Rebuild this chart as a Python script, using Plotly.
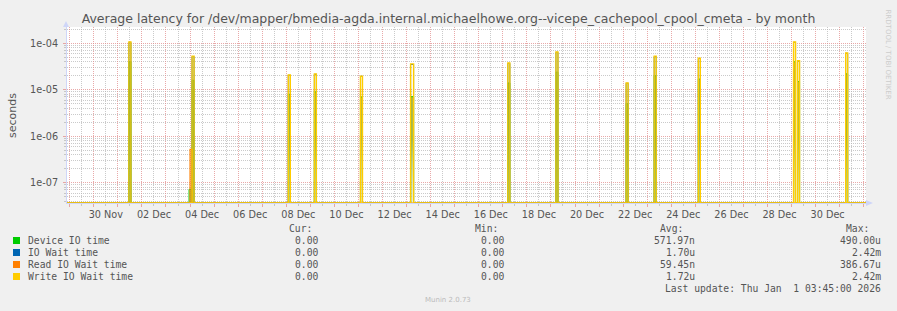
import plotly.graph_objects as go
import pandas as pd

# ---------------- data ----------------
range_start = "2025-11-28 21:15"
range_end = "2026-01-01 02:17"

device_times = ["2025-12-01 11:00", "2025-12-03 23:00", "2025-12-04 02:00", "2025-12-08 02:00",
                "2025-12-09 04:00", "2025-12-11 02:00", "2025-12-13 04:00", "2025-12-17 05:00",
                "2025-12-19 05:00", "2025-12-22 03:00", "2025-12-23 07:00", "2025-12-25 03:00",
                "2025-12-29 02:00", "2025-12-29 06:00", "2025-12-31 06:00"]
device_hours = [2, 2, 2, 2, 2, 2, 3, 2, 2, 2, 2, 2, 2, 2, 2]
device_values = [4.0e-5, 7.2e-8, 1.6e-5, 8.0e-6, 9.0e-6, 7.0e-6, 7.1e-6, 1.4e-5,
                 2.4e-5, 5.0e-6, 2.0e-5, 1.7e-5, 4.0e-5, 1.5e-5, 2.2e-5]

write_times = ["2025-12-01 11:00", "2025-12-04 02:00", "2025-12-08 02:00", "2025-12-09 04:00",
               "2025-12-11 02:00", "2025-12-13 04:00", "2025-12-17 05:00", "2025-12-19 05:00",
               "2025-12-22 03:00", "2025-12-23 07:00", "2025-12-25 03:00", "2025-12-29 02:00",
               "2025-12-29 06:00", "2025-12-31 06:00"]
write_hours = [2, 2, 2, 2, 2, 3, 2, 2, 2, 2, 2, 2, 2, 2]
write_values = [1.07e-4, 5.3e-5, 2.08e-5, 2.2e-5, 1.97e-5, 3.6e-5, 3.77e-5, 6.5e-5,
                1.4e-5, 5.3e-5, 4.8e-5, 1.07e-4, 4.2e-5, 6.2e-5]

iowait_times = write_times
iowait_hours = write_hours
iowait_values = [1.05e-4, 5.2e-5, 2.05e-5, 2.15e-5, 1.95e-5, 3.5e-5, 3.7e-5, 6.4e-5,
                 1.38e-5, 5.2e-5, 4.7e-5, 1.05e-4, 4.1e-5, 6.1e-5]

read_times = ["2025-12-04 00:00"]
read_hours = [2]
read_values = [5.2e-7]

legend_names = ["Device IO time", "IO Wait time", "Read IO Wait time", "Write IO Wait time"]
legend_colors = ["#00CC00", "#0066B3", "#FF8000", "#FFCC00"]
cur_text = ["0.00", "0.00", "0.00", "0.00"]
min_text = ["0.00", "0.00", "0.00", "0.00"]
avg_text = ["571.97n", "1.70u", "59.45n", "1.72u"]
max_text = ["490.00u", "2.42m", "386.67u", "2.42m"]

title = ("Average latency for /dev/mapper/bmedia-agda.internal.michaelhowe.org"
         "--vicepe_cachepool_cpool_cmeta - by month")

# ---------------- helpers ----------------
LOG_MIN, LOG_MAX = -7.437, -3.649
FLOOR = 10 ** LOG_MIN  # rrdtool draws zero values at the bottom edge


def step_series(times, hours, values):
    xs = [pd.Timestamp(range_start)]
    ys = [0.0]
    for t, h, v in zip(times, hours, values):
        t0 = pd.Timestamp(t)
        xs += [t0, t0 + pd.Timedelta(hours=h)]
        ys += [v, 0.0]
    xs.append(pd.Timestamp(range_end))
    ys.append(0.0)
    ys = [y if y > 0 else FLOOR for y in ys]
    return xs, ys


fig = go.Figure()

dx, dy = step_series(device_times, device_hours, device_values)
fig.add_trace(go.Scatter(
    x=dx, y=dy, mode="lines", line=dict(color="#00CC00", width=1, shape="hv"),
    fill="toself",
    fillgradient=dict(type="vertical",
                      colorscale=[[0, "rgba(205,235,200,0.5)"], [0.45, "rgba(150,180,70,0.9)"],
                                  [1, "rgba(175,175,45,0.9)"]]),
    showlegend=False, hoverinfo="skip"))

bx, by = step_series(iowait_times, iowait_hours, iowait_values)
fig.add_trace(go.Scatter(x=bx, y=by, mode="lines", line=dict(color="#0066B3", width=1, shape="hv"),
                         showlegend=False, hoverinfo="skip"))

rx, ry = step_series(read_times, read_hours, read_values)
fig.add_trace(go.Scatter(x=rx, y=ry, mode="lines", line=dict(color="#FF8000", width=1.2, shape="hv"),
                         showlegend=False, hoverinfo="skip"))

wx, wy = step_series(write_times, write_hours, write_values)
fig.add_trace(go.Scatter(x=wx, y=wy, mode="lines", line=dict(color="#FFCC00", width=1.4, shape="hv"),
                         showlegend=False, hoverinfo="skip"))

# dummy trace to carry the label axis
fig.add_trace(go.Scatter(x=[pd.Timestamp(range_start)], y=[FLOOR], xaxis="x2", mode="lines",
                         showlegend=False, hoverinfo="skip", line=dict(width=0)))

# ---------------- axes ----------------
start = pd.Timestamp(range_start)
end = pd.Timestamp(range_end)
midnights = list(pd.date_range(start.ceil("D"), end, freq="D"))
noons = [m + pd.Timedelta(hours=12) for m in midnights] + [start.floor("D") + pd.Timedelta(hours=12)]
noons = [n for n in noons if start <= n <= end]
label_days = list(pd.date_range("2025-11-30 12:00", end, freq="2D"))

RED = "rgba(225,140,140,0.75)"
GREY = "rgba(180,180,180,0.7)"
FONT = "DejaVu Sans"
TXT = "#555555"

fig.update_layout(
    width=897, height=311,
    margin=dict(l=67, r=31, t=27, b=108, pad=0),
    paper_bgcolor="#F0F0F0", plot_bgcolor="#FFFFFF",
    title=dict(text=title, x=0.5, xref="container", xanchor="center",
               y=1 - 19 / 311, yref="container", yanchor="middle",
               font=dict(family=FONT, size=12.5, color=TXT)),
    xaxis=dict(type="date", range=[start, end], tickmode="array", tickvals=midnights,
               showticklabels=False, showgrid=True, gridcolor=RED, griddash="1px,1px", gridwidth=1,
               ticks="outside", ticklen=3, tickcolor=RED,
               showline=True, linecolor="#CFD6F8", linewidth=1, zeroline=False,
               minor=dict(tickmode="array", tickvals=noons, showgrid=True, gridcolor=GREY,
                          griddash="1px,1px", ticks="outside", ticklen=2, tickcolor=GREY)),
    xaxis2=dict(type="date", range=[start, end], overlaying="x", side="bottom", anchor="y",
                tickmode="array", tickvals=label_days, tickformat="%d %b",
                showgrid=False, ticks="", showline=False, zeroline=False,
                ticklabelstandoff=4,
                tickfont=dict(family=FONT, size=9.7, color=TXT)),
    yaxis=dict(type="log", range=[LOG_MIN, LOG_MAX], tickmode="array",
               tickvals=[1e-7, 1e-6, 1e-5, 1e-4], ticktext=["1e-07", "1e-06", "1e-05", "1e-04"],
               showgrid=True, gridcolor=RED, griddash="1px,1px", gridwidth=1,
               ticks="outside", ticklen=3, tickcolor=RED, ticklabelstandoff=3,
               tickfont=dict(family=FONT, size=9.7, color=TXT),
               showline=True, linecolor="#CFD6F8", linewidth=1, zeroline=False,
               minor=dict(tickmode="array",
                          tickvals=[m * 10.0 ** e for e in range(-8, -3) for m in range(2, 10)],
                          showgrid=True, gridcolor=GREY, griddash="1px,1px",
                          ticks="outside", ticklen=2, tickcolor=GREY)),
)

# axis arrows
fig.add_shape(type="path", xref="paper", yref="paper", xsizemode="pixel", ysizemode="pixel",
              xanchor=0, yanchor=1, path="M -4,0 L 2,0 L -1,6 Z",
              fillcolor="#CFD6F8", line=dict(width=0))
fig.add_shape(type="path", xref="paper", yref="paper", xsizemode="pixel", ysizemode="pixel",
              xanchor=1, yanchor=0, path="M 0,-3 L 0,3 L 7,0 Z",
              fillcolor="#CFD6F8", line=dict(width=0))

# ---------------- text ----------------
PW, PH = 799.0, 176.0


def px(x):
    return (x - 67) / PW


def py(y):
    return (203 - y) / PH


def note(text, x, y, anchor="left", size=9.7, color=TXT, family="DejaVu Sans Mono", angle=0):
    fig.add_annotation(text=text, x=px(x), y=py(y), xref="paper", yref="paper",
                       xanchor=anchor, yanchor="middle", showarrow=False, textangle=angle,
                       font=dict(family=family, size=size, color=color))


note("seconds", 12, 115, anchor="center", size=11, family=FONT, angle=-90)
note("RRDTOOL / TOBI OETIKER", 887.5, 54, anchor="center", size=7, color="#CCCCCC", family=FONT, angle=90)

note("Cur:", 313.5, 228, anchor="right")
note("Min:", 499.5, 228, anchor="right")
note("Avg:", 684.5, 228, anchor="right")
note("Max:", 870.7, 228, anchor="right")

row_y = [240, 252, 264, 276]
for i, name in enumerate(legend_names):
    yy = row_y[i]
    fig.add_annotation(text="", x=px(16.5), y=py(yy), xref="paper", yref="paper",
                       xanchor="center", yanchor="middle", showarrow=False,
                       width=7, height=7, bgcolor=legend_colors[i], borderpad=0, borderwidth=0)
    note(name, 25.7, yy)
    note(cur_text[i], 319.5, yy, anchor="right")
    note(min_text[i], 505.7, yy, anchor="right")
    note(avg_text[i], 696.8, yy, anchor="right")
    note(max_text[i], 882.7, yy, anchor="right")

note("Last update: Thu Jan  1 03:45:00 2026".replace("  ", "\u00a0 "), 882.7, 288, anchor="right")
note("Munin 2.0.73", 448, 300, anchor="center", size=7, color="#BBBBBB", family=FONT)

fig.write_html("out.html")
